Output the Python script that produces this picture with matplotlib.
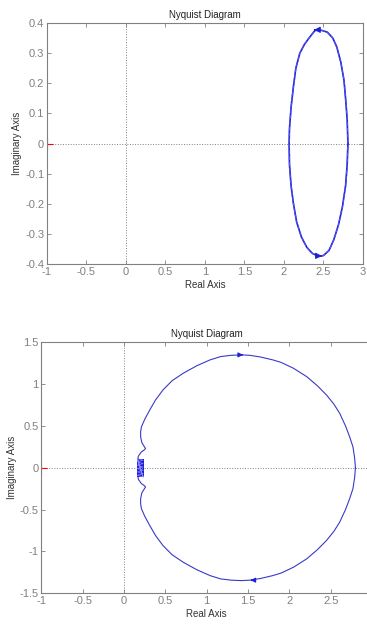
import numpy as np
import matplotlib
matplotlib.use("Agg")
import matplotlib.pyplot as plt

plt.rcParams['font.family'] = ['Liberation Sans', 'DejaVu Sans']

# --- top plot: nearly elliptical Nyquist curve ---
top_re = [2.81, 2.80, 2.78, 2.76, 2.72, 2.67, 2.62, 2.55, 2.48, 2.43, 2.39, 2.33, 2.26, 2.20, 2.15, 2.12,
          2.09, 2.07, 2.065, 2.07, 2.09, 2.12, 2.16, 2.22, 2.29, 2.36, 2.44, 2.50, 2.57, 2.63, 2.69,
          2.74, 2.78, 2.80, 2.81]
top_im = [0.0, 0.08, 0.15, 0.21, 0.27, 0.32, 0.35, 0.37, 0.376, 0.378, 0.375, 0.355, 0.33, 0.30, 0.25, 0.19,
          0.12, 0.05, 0.0, -0.07, -0.14, -0.20, -0.26, -0.31, -0.345, -0.365, -0.375, -0.372, -0.355,
          -0.32, -0.27, -0.21, -0.14, -0.07, 0.0]
top_arrows = [(2.39, 0.378, 'left'), (2.47, -0.373, 'right')]

# --- bottom plot: circle with indent near origin (upper half, mirrored) ---
bot_re_upper = [2.80, 2.79, 2.77, 2.73, 2.68, 2.61, 2.54, 2.45, 2.34, 2.21, 2.05, 1.90, 1.80, 1.65,
                1.52, 1.42, 1.30, 1.17, 1.04, 0.88, 0.715, 0.58, 0.47, 0.38, 0.31, 0.25, 0.21, 0.20,
                0.20, 0.215, 0.24, 0.26, 0.24, 0.21, 0.18, 0.17, 0.17]
bot_im_upper = [0.0, 0.12, 0.25, 0.37, 0.50, 0.65, 0.76, 0.87, 0.98, 1.09, 1.19, 1.26, 1.29, 1.325,
                1.345, 1.35, 1.345, 1.33, 1.29, 1.22, 1.13, 1.04, 0.93, 0.81, 0.69, 0.58, 0.49, 0.43,
                0.37, 0.30, 0.26, 0.23, 0.21, 0.19, 0.15, 0.13, 0.11]
# dense wiggle near 0.2 on the real axis
clust_re = [0.16, 0.23, 0.16, 0.23, 0.16, 0.23, 0.16, 0.23, 0.16, 0.23, 0.16, 0.23, 0.16, 0.23, 0.16]
clust_im = [0.11, 0.09, 0.07, 0.05, 0.03, 0.01, -0.01, -0.03, -0.05, -0.07, -0.09, -0.11, 0.11, -0.11, 0.11]
bot_arrows = [(1.42, 1.35, 'right'), (1.55, -1.345, 'left')]

blue = '#1f1fd6'
gray = '#808080'

fig = plt.figure(figsize=(3.67, 6.27), dpi=100)
ax1 = fig.add_axes([0.128, 0.579, 0.861, 0.384])
ax2 = fig.add_axes([0.113, 0.054, 0.9005, 0.400])


def style(ax, xlim, ylim, yticks, xlabels):
    ax.set_xlim(*xlim)
    ax.set_ylim(*ylim)
    ax.set_xticks(np.arange(-1, 3.01, 0.5))
    ax.set_xticklabels(xlabels)
    ax.set_yticks(yticks)
    ax.set_yticklabels(['%g' % t for t in yticks])
    ax.tick_params(direction='in', top=True, right=True, length=3, width=0.6,
                   colors=gray, labelsize=8, pad=2)
    for s in ax.spines.values():
        s.set_color(gray)
        s.set_linewidth(0.8)
    ax.axhline(0, color=gray, ls=':', lw=0.7)
    ax.axvline(0, color=gray, ls=':', lw=0.7)
    ax.plot([-1], [0], marker='+', color='red', ms=8, mew=0.8, clip_on=True)
    ax.set_title('Nyquist Diagram', fontsize=7, color='#222222', pad=4)
    ax.set_xlabel('Real Axis', fontsize=7, color='#333333', labelpad=2)
    ax.set_ylabel('Imaginary Axis', fontsize=7, color='#333333', labelpad=2)


def arrow(ax, x, y, d, dx, ms):
    sgn = -1 if d == 'left' else 1
    ax.annotate('', xy=(x + sgn * dx, y), xytext=(x, y),
                arrowprops=dict(arrowstyle='-|>', color=blue, lw=0.8, mutation_scale=ms))


xl = ['-1', '-0.5', '0', '0.5', '1', '1.5', '2', '2.5', '3']
style(ax1, (-1, 3), (-0.4, 0.4), [-0.4, -0.3, -0.2, -0.1, 0, 0.1, 0.2, 0.3, 0.4], xl)
ax1.plot(top_re, top_im, color=blue, lw=1.2)
ax1.plot(top_re, top_im, color='#5555ee', lw=0.8, ls='--')
for x, y, d in top_arrows:
    arrow(ax1, x, y, d, 0.01, 9)

style(ax2, (-1, 3), (-1.5, 1.5), [-1.5, -1, -0.5, 0, 0.5, 1, 1.5], xl[:-1] + [''])
bre = np.array(bot_re_upper)
bim = np.array(bot_im_upper)
ax2.plot(bre, bim, color='#3a3ac8', lw=0.8)
ax2.plot(bre, -bim, color='#3a3ac8', lw=0.8)
ax2.fill_between([0.155, 0.235], -0.11, 0.11, color=blue, lw=0)
ax2.plot(clust_re, clust_im, color='#8888ff', lw=0.5)
for x, y, d in bot_arrows:
    arrow(ax2, x, y, d, 0.02, 7)

fig.savefig('out.png', dpi=100)
